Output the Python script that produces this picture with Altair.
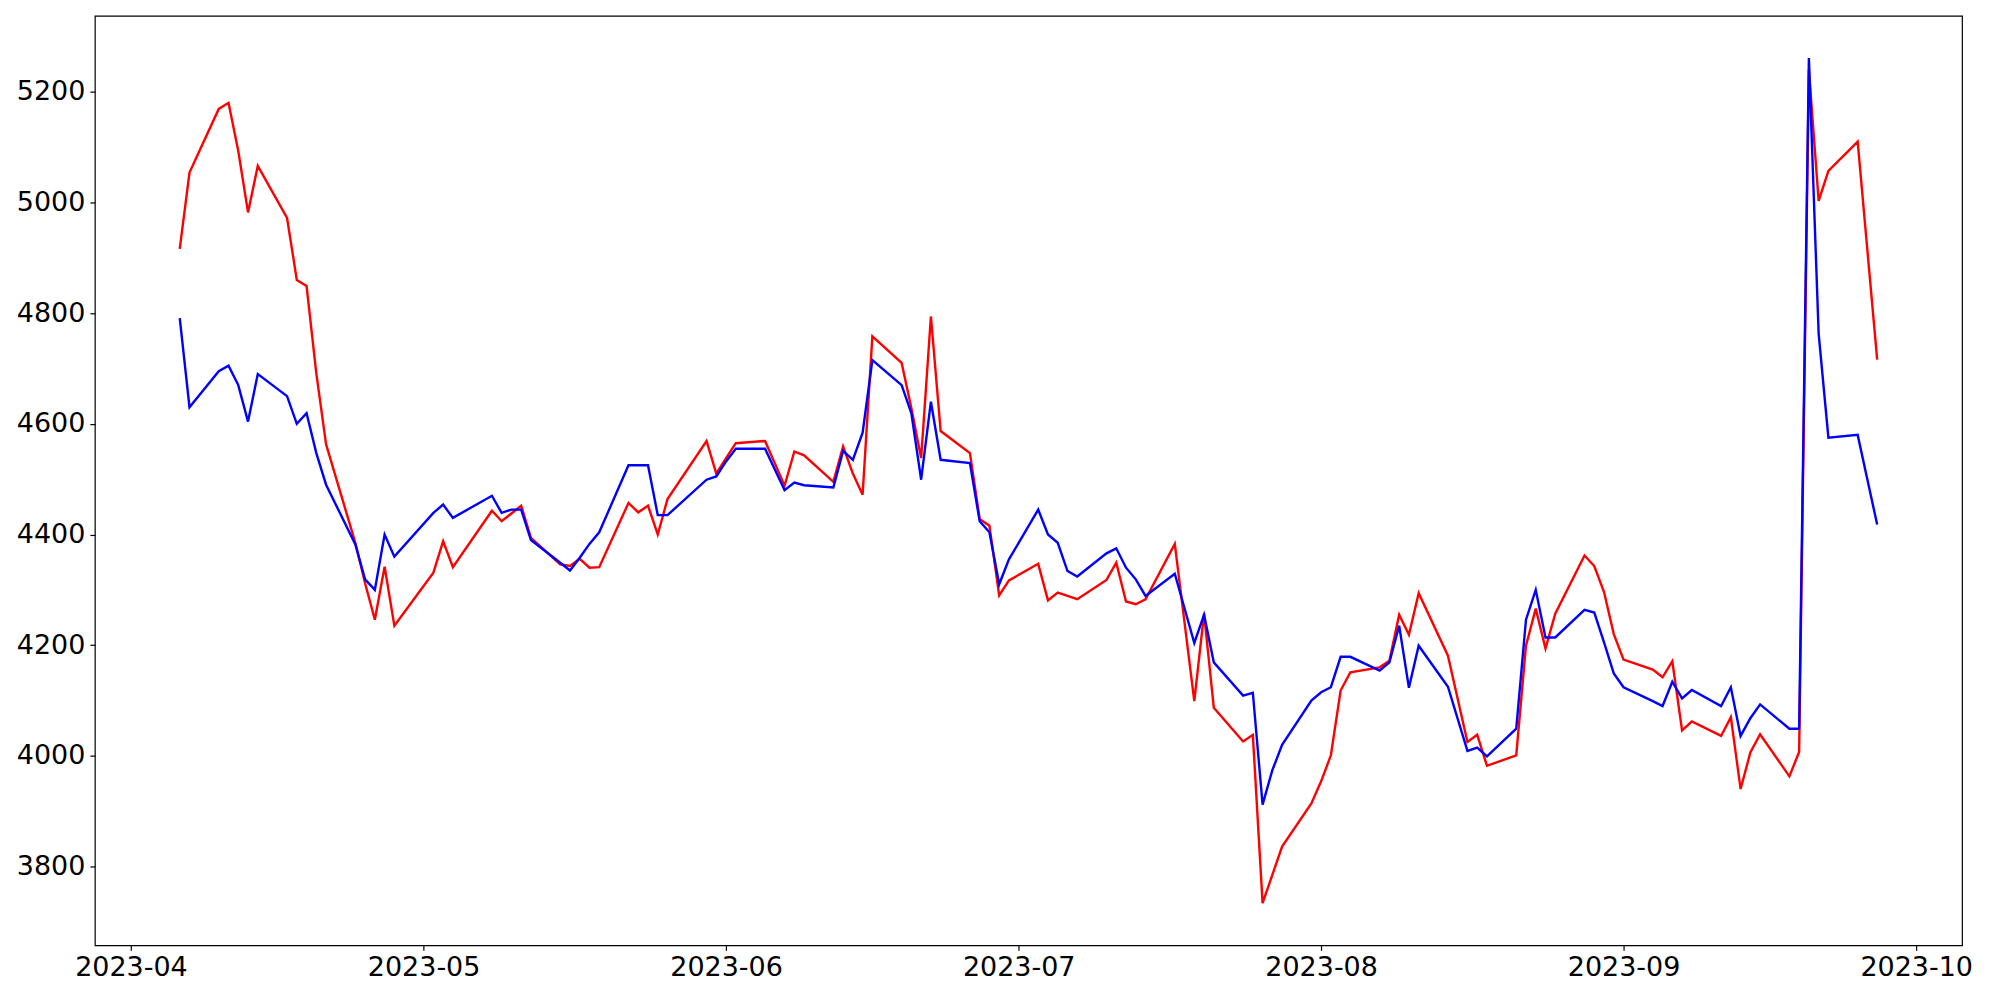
import altair as alt
import pandas as pd

dates = [
    "2023-04-06", "2023-04-07", "2023-04-10", "2023-04-11", "2023-04-12", "2023-04-13", "2023-04-14",
    "2023-04-17", "2023-04-18", "2023-04-19", "2023-04-20", "2023-04-21",
    "2023-04-24", "2023-04-25", "2023-04-26", "2023-04-27", "2023-04-28",
    "2023-05-02", "2023-05-03", "2023-05-04",
    "2023-05-08", "2023-05-09", "2023-05-10", "2023-05-11", "2023-05-12",
    "2023-05-15", "2023-05-16", "2023-05-17", "2023-05-18", "2023-05-19",
    "2023-05-22", "2023-05-23", "2023-05-24", "2023-05-25", "2023-05-26",
    "2023-05-30", "2023-05-31", "2023-06-01", "2023-06-02",
    "2023-06-05", "2023-06-07", "2023-06-08", "2023-06-09",
    "2023-06-12", "2023-06-13", "2023-06-14", "2023-06-15", "2023-06-16",
    "2023-06-19", "2023-06-20", "2023-06-21", "2023-06-22", "2023-06-23",
    "2023-06-26", "2023-06-27", "2023-06-28", "2023-06-29", "2023-06-30",
    "2023-07-03", "2023-07-04", "2023-07-05", "2023-07-06", "2023-07-07",
    "2023-07-10", "2023-07-11", "2023-07-12", "2023-07-13", "2023-07-14",
    "2023-07-17", "2023-07-19", "2023-07-20", "2023-07-21",
    "2023-07-24", "2023-07-25", "2023-07-26", "2023-07-27", "2023-07-28",
    "2023-07-31", "2023-08-01", "2023-08-02", "2023-08-03", "2023-08-04",
    "2023-08-07", "2023-08-08", "2023-08-09", "2023-08-10", "2023-08-11",
    "2023-08-14", "2023-08-16", "2023-08-17", "2023-08-18",
    "2023-08-21", "2023-08-22", "2023-08-23", "2023-08-24", "2023-08-25",
    "2023-08-28", "2023-08-29", "2023-08-30", "2023-08-31", "2023-09-01",
    "2023-09-04", "2023-09-05", "2023-09-06", "2023-09-07", "2023-09-08",
    "2023-09-11", "2023-09-12", "2023-09-13", "2023-09-14", "2023-09-15",
    "2023-09-18", "2023-09-19", "2023-09-20", "2023-09-21", "2023-09-22",
    "2023-09-25", "2023-09-27",
]

red_values = [
    4916, 5054, 5169, 5180, 5093, 4982, 5066,
    4972, 4860, 4849, 4691, 4563,
    4385, 4312, 4246, 4342, 4235,
    4331, 4388, 4341,
    4443, 4424, 4438, 4452, 4394,
    4346, 4343, 4356, 4340, 4341,
    4457, 4440, 4452, 4400, 4464,
    4569, 4510, 4538, 4565,
    4569, 4488, 4550, 4543,
    4495, 4559, 4510, 4472, 4758,
    4710, 4628, 4538, 4794, 4587,
    4547, 4428, 4416, 4290, 4317,
    4347, 4281, 4295, 4289, 4283,
    4318, 4349, 4279, 4274, 4283,
    4383, 4099, 4257, 4087,
    4026, 4038, 3734, 3785, 3836,
    3914, 3954, 4001, 4118, 4151,
    4160, 4172, 4255, 4219, 4294,
    4181, 4025, 4038, 3982,
    4001, 4199, 4266, 4194, 4257,
    4362, 4343, 4296, 4220, 4174,
    4156, 4142, 4171, 4046, 4062,
    4036, 4070, 3940, 4006, 4039,
    3963, 4007, 5240, 5003, 5057,
    5110, 4716,
]

blue_values = [
    4791, 4630, 4695, 4705, 4670, 4604, 4690,
    4650, 4600, 4619, 4547, 4490,
    4382, 4319, 4300, 4400, 4360,
    4439, 4454, 4430,
    4470, 4439, 4445, 4445, 4390,
    4349, 4335, 4358, 4383, 4404,
    4525, 4525, 4525, 4435, 4435,
    4499, 4505, 4532, 4555,
    4555, 4480, 4494, 4489,
    4485, 4551, 4535, 4584, 4715,
    4670, 4619, 4499, 4640, 4535,
    4529, 4424, 4404, 4310, 4355,
    4445, 4400, 4385, 4334, 4324,
    4366, 4375, 4340, 4319, 4289,
    4329, 4204, 4255, 4169,
    4109, 4114, 3912, 3974, 4020,
    4100, 4115, 4124, 4179, 4179,
    4154, 4169, 4235, 4123, 4199,
    4125, 4009, 4015, 3999,
    4049, 4246, 4300, 4214, 4214,
    4264, 4259, 4205, 4149, 4124,
    4099, 4090, 4134, 4104, 4119,
    4090, 4124, 4036, 4068, 4093,
    4049, 4049, 5261, 4763, 4575,
    4580, 4418,
]

y_ticks = [3800, 4000, 4200, 4400, 4600, 4800, 5000, 5200]
x_tick_months = [4, 5, 6, 7, 8, 9, 10]

df = pd.DataFrame({
    "date": [d + "T00:00:00" for d in dates],
    "red": red_values,
    "blue": blue_values,
})

x_enc = alt.X(
    "date:T",
    title=None,
    scale=alt.Scale(
        domain=[
            alt.DateTime(year=2023, month=3, date=28, hours=7, minutes=12),
            alt.DateTime(year=2023, month=10, date=5, hours=16, minutes=48),
        ],
        nice=False,
    ),
    axis=alt.Axis(
        values=[alt.DateTime(year=2023, month=m, date=1) for m in x_tick_months],
        format="%Y-%m",
        labelPadding=4,
    ),
)

y_scale = alt.Scale(domain=[3657.6, 5337.4], nice=False, zero=False)
y_axis = alt.Axis(values=y_ticks, format="d", labelPadding=5)

base = alt.Chart(df)

red_line = base.mark_line(color="#ff0000", strokeWidth=2.4).encode(
    x=x_enc,
    y=alt.Y("red:Q", title=None, scale=y_scale, axis=y_axis),
)

blue_line = base.mark_line(color="#0000ff", strokeWidth=2.4).encode(
    x=x_enc,
    y=alt.Y("blue:Q", title=None, scale=y_scale, axis=y_axis),
)

chart = (
    alt.layer(red_line, blue_line)
    .properties(
        width=1870,
        height=931,
        autosize=alt.AutoSizeParams(type="none"),
        padding={"left": 87, "top": 7, "right": 30, "bottom": 60},
        background="#ffffff",
    )
    .configure_view(stroke="#000000", strokeWidth=1.2)
    .configure_axis(
        domain=False,
        grid=False,
        ticks=True,
        tickSize=5,
        tickWidth=1.2,
        tickColor="#000000",
        labelFont="DejaVu Sans",
        labelFontSize=27,
        labelColor="#000000",
    )
)

chart.save("out.html", embed_options={"renderer": "svg", "actions": False})
